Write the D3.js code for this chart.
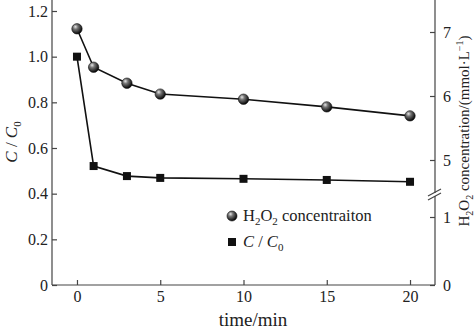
<!DOCTYPE html>
<html>
<head>
<meta charset="utf-8">
<script src="https://cdn.jsdelivr.net/npm/d3@7"></script>
<style>
  html, body { margin: 0; padding: 0; background: #fff; }
  svg { display: block; font-family: "Liberation Serif", "Times New Roman", serif; }
</style>
</head>
<body>
<svg id="chart" width="474" height="330"></svg>
<script>
// Reaction time (min)
const times = [0, 1, 3, 5, 10, 15, 20];
// H2O2 concentration, mmol/L (right axis)
const h2o2 = [7.05, 6.45, 6.20, 6.03, 5.95, 5.83, 5.69];
// Relative concentration C/C0 (left axis)
const ratio = [1.00, 0.521, 0.477, 0.469, 0.465, 0.460, 0.452];

const xTicks = [0, 5, 10, 15, 20];
const leftTicks = [0, 0.2, 0.4, 0.6, 0.8, 1.0, 1.2];
const rightLowTicks = [0, 1];
const rightHighTicks = [5, 6, 7];

const svg = d3.select("#chart");
const axisColor = "#444";
const textColor = "#222";

const plotLeft = 52, plotRight = 435, plotBottom = 285, plotTop = 0;

const x = d3.scaleLinear().domain([-1.5, 21.5]).range([plotLeft, plotRight]);
const yL = d3.scaleLinear().domain([0, 1.2]).range([plotBottom, 11]);
// Broken right axis: lower segment 0-1, upper segment 5-7
const yRlow = d3.scaleLinear().domain([0, 1]).range([plotBottom, 217]);
const yRhigh = d3.scaleLinear().domain([5, 7]).range([160, 32]);

// Axis lines
const axes = svg.append("g").attr("stroke", axisColor).attr("stroke-width", 1.2);
axes.append("line").attr("x1", plotLeft).attr("x2", plotLeft).attr("y1", plotTop).attr("y2", plotBottom);
axes.append("line").attr("x1", plotLeft).attr("x2", plotRight).attr("y1", plotBottom).attr("y2", plotBottom);
axes.append("line").attr("x1", plotRight).attr("x2", plotRight).attr("y1", plotTop).attr("y2", plotBottom);

function styleAxis(g) {
  g.select(".domain").remove();
  g.selectAll(".tick line").attr("stroke", axisColor).attr("stroke-width", 1.2);
  g.selectAll(".tick text").attr("fill", textColor)
    .style("font-family", "Liberation Serif, serif").style("font-size", "16px");
}

svg.append("g").attr("transform", `translate(0,${plotBottom})`)
  .call(d3.axisBottom(x).tickValues(xTicks).tickSize(-5).tickPadding(6).tickFormat(d3.format("d")))
  .call(styleAxis);

svg.append("g").attr("transform", `translate(${plotLeft},0)`)
  .call(d3.axisLeft(yL).tickValues(leftTicks).tickSize(-5).tickPadding(4)
    .tickFormat(d => d === 0 ? "0" : d3.format(".1f")(d)))
  .call(styleAxis);

svg.append("g").attr("transform", `translate(${plotRight},0)`)
  .call(d3.axisRight(yRlow).tickValues(rightLowTicks).tickSize(-5).tickPadding(8).tickFormat(d3.format("d")))
  .call(styleAxis);

svg.append("g").attr("transform", `translate(${plotRight},0)`)
  .call(d3.axisRight(yRhigh).tickValues(rightHighTicks).tickSize(-5).tickPadding(8).tickFormat(d3.format("d")))
  .call(styleAxis);

// Break marks on the right axis
const brk = svg.append("g");
brk.append("rect").attr("x", plotRight - 3).attr("y", 193).attr("width", 6).attr("height", 3).attr("fill", "#fff");
brk.append("line").attr("x1", plotRight - 7).attr("y1", 196).attr("x2", plotRight + 6).attr("y2", 189)
  .attr("stroke", axisColor).attr("stroke-width", 1.2);
brk.append("line").attr("x1", plotRight - 7).attr("y1", 200).attr("x2", plotRight + 6).attr("y2", 193)
  .attr("stroke", axisColor).attr("stroke-width", 1.2);

// Sphere-shaded gradient for the H2O2 markers
const defs = svg.append("defs");
const grad = defs.append("radialGradient").attr("id", "sphere")
  .attr("cx", "38%").attr("cy", "35%").attr("r", "65%").attr("fx", "35%").attr("fy", "30%");
grad.append("stop").attr("offset", "0%").attr("stop-color", "#e8e8e8");
grad.append("stop").attr("offset", "35%").attr("stop-color", "#777");
grad.append("stop").attr("offset", "100%").attr("stop-color", "#050505");

const h2o2Pts = times.map((t, i) => ({ t, v: h2o2[i] }));
const ratioPts = times.map((t, i) => ({ t, v: ratio[i] }));

const lineH = d3.line().x(d => x(d.t)).y(d => yRhigh(d.v));
const lineR = d3.line().x(d => x(d.t)).y(d => yL(d.v));

svg.append("path").datum(h2o2Pts).attr("d", lineH)
  .attr("fill", "none").attr("stroke", "#111").attr("stroke-width", 1.6);
svg.append("path").datum(ratioPts).attr("d", lineR)
  .attr("fill", "none").attr("stroke", "#111").attr("stroke-width", 1.6);

svg.append("g").selectAll("circle").data(h2o2Pts).join("circle")
  .attr("cx", d => x(d.t)).attr("cy", d => yRhigh(d.v)).attr("r", 5.2)
  .attr("fill", "url(#sphere)").attr("stroke", "#111").attr("stroke-width", 0.6);

const sq = 8;
svg.append("g").selectAll("rect").data(ratioPts).join("rect")
  .attr("x", d => x(d.t) - sq / 2).attr("y", d => yL(d.v) - sq / 2)
  .attr("width", sq).attr("height", sq).attr("fill", "#111");

// Legend
const lg = svg.append("g");
lg.append("circle").attr("cx", 232).attr("cy", 216).attr("r", 5)
  .attr("fill", "url(#sphere)").attr("stroke", "#111").attr("stroke-width", 0.6);
const t1 = lg.append("text").attr("x", 243).attr("y", 221).attr("fill", textColor).style("font-size", "16.5px");
t1.append("tspan").text("H");
t1.append("tspan").attr("dy", 4).style("font-size", "11px").text("2");
t1.append("tspan").attr("dy", -4).text("O");
t1.append("tspan").attr("dy", 4).style("font-size", "11px").text("2");
t1.append("tspan").attr("dy", -4).text(" concentraiton");

lg.append("rect").attr("x", 228).attr("y", 238).attr("width", sq).attr("height", sq).attr("fill", "#111");
const t2 = lg.append("text").attr("x", 243).attr("y", 247).attr("fill", textColor).style("font-size", "16.5px");
t2.append("tspan").style("font-style", "italic").text("C");
t2.append("tspan").text(" / ");
t2.append("tspan").style("font-style", "italic").text("C");
t2.append("tspan").attr("dy", 4).style("font-size", "11px").text("0");

// Axis titles
svg.append("text").attr("x", 253).attr("y", 326).attr("text-anchor", "middle")
  .attr("fill", textColor).style("font-size", "19px").text("time/min");

const yt = svg.append("text").attr("transform", "translate(17,142) rotate(-90)")
  .attr("text-anchor", "middle").attr("fill", textColor).style("font-size", "17px");
yt.append("tspan").style("font-style", "italic").text("C");
yt.append("tspan").text(" / ");
yt.append("tspan").style("font-style", "italic").text("C");
yt.append("tspan").attr("dy", 4).style("font-size", "11px").text("0");

const rt = svg.append("text").attr("transform", "translate(469,131) rotate(-90)")
  .attr("text-anchor", "middle").attr("fill", textColor).style("font-size", "15px");
rt.append("tspan").text("H");
rt.append("tspan").attr("dy", 4).style("font-size", "10px").text("2");
rt.append("tspan").attr("dy", -4).text("O");
rt.append("tspan").attr("dy", 4).style("font-size", "10px").text("2");
rt.append("tspan").attr("dy", -4).text(" concentration/(mmol\u00B7L");
rt.append("tspan").attr("dy", -6).style("font-size", "10px").text("\u22121");
rt.append("tspan").attr("dy", 6).text(")");
</script>
</body>
</html>
